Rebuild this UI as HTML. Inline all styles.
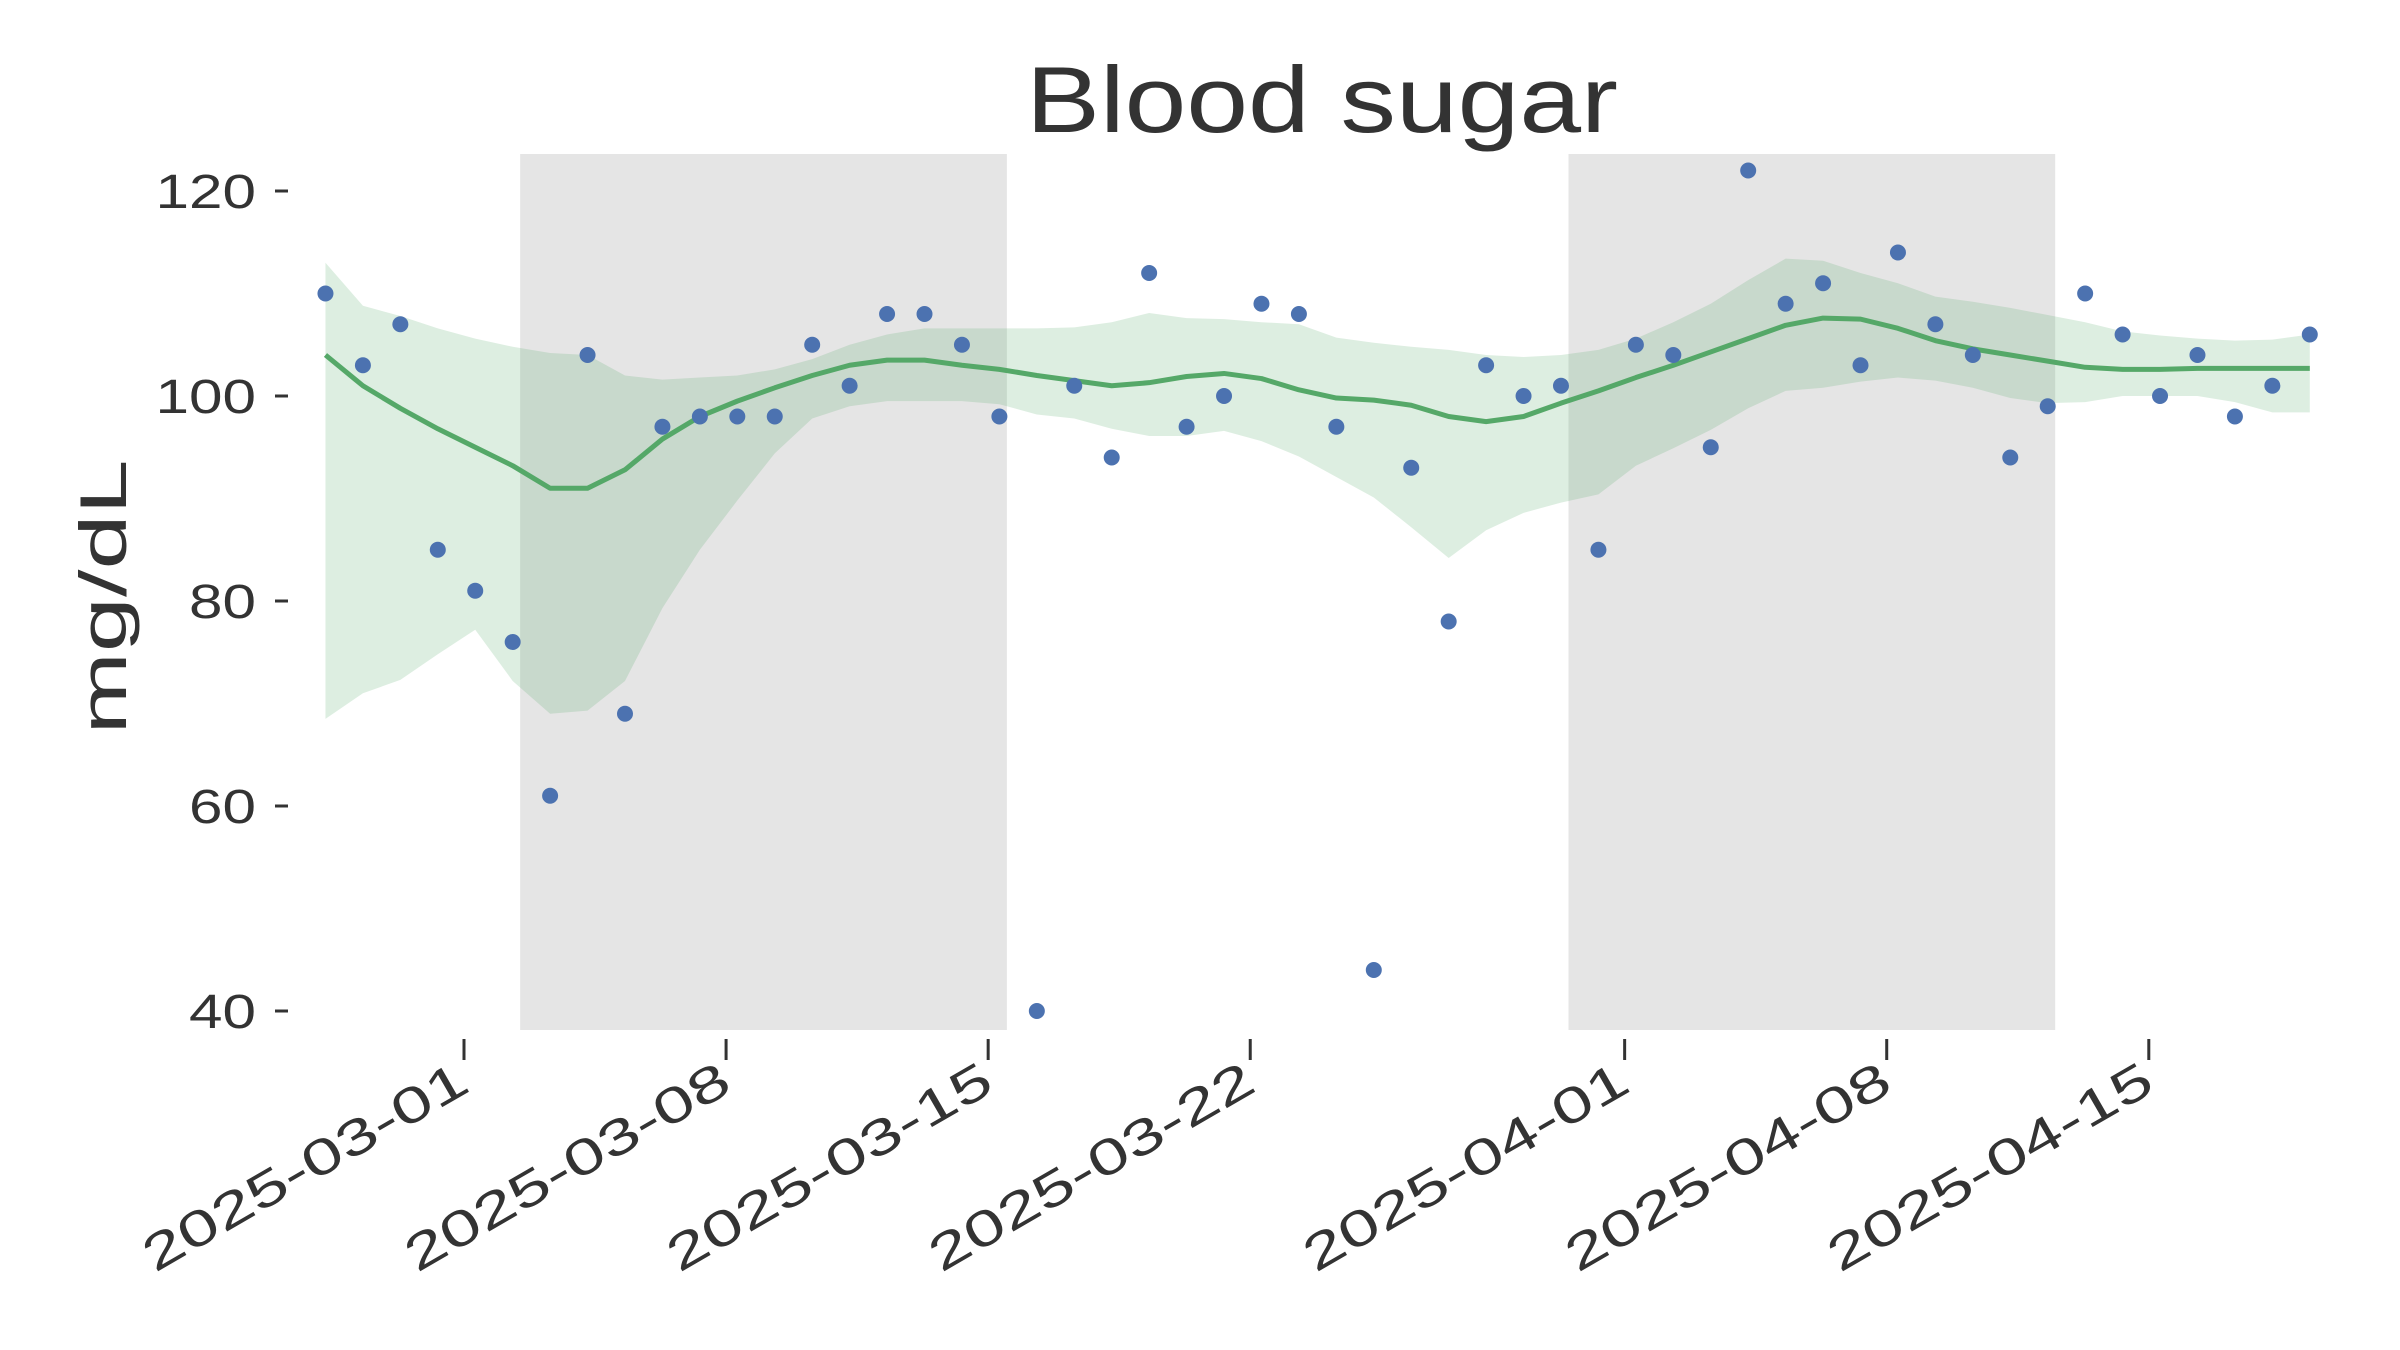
<!DOCTYPE html>
<html><head><meta charset="utf-8"><style>
html,body{margin:0;padding:0;background:#fff;}
svg{display:block;font-family:"Liberation Sans",sans-serif;}
</style></head><body>
<svg id="chart" width="2400" height="1350" viewBox="0 0 2400 1350" xmlns="http://www.w3.org/2000/svg">
<text x="1322" y="132" font-size="94" fill="#333" text-anchor="middle" textLength="592" lengthAdjust="spacingAndGlyphs">Blood sugar</text>
<text transform="translate(126,597) rotate(-90)" font-size="66" fill="#333" text-anchor="middle" textLength="275" lengthAdjust="spacingAndGlyphs">mg/dL</text>
<g id="spans"></g><g id="band"></g><g id="line"></g><g id="dots"></g><g id="yaxis"></g><g id="xaxis"></g>
</svg>
<script>
const values=[110,103,107,85,81,76,61,104,69,97,98,98,98,105,101,108,108,105,98,40,101,94,112,97,100,109,108,97,44,93,78,103,100,101,85,105,104,95,122,109,111,103,114,107,104,94,99,110,106,100,104,98,101,106];
const trend=[104,101,98.8,96.8,95,93.2,91,91,92.8,95.8,98,99.5,100.8,102,103,103.5,103.5,103,102.6,102,101.5,101,101.3,101.9,102.2,101.7,100.6,99.8,99.6,99.1,98,97.5,98,99.3,100.5,101.8,103,104.3,105.6,106.9,107.6,107.5,106.6,105.4,104.6,104,103.4,102.8,102.6,102.6,102.7,102.7,102.7,102.7];
const upper=[113,108.8,107.8,106.6,105.6,104.8,104.2,104,102,101.6,101.8,102,102.6,103.6,105,106,106.6,106.6,106.6,106.6,106.7,107.2,108.1,107.6,107.5,107.2,107,105.7,105.2,104.8,104.5,104,103.8,104,104.5,105.6,107.2,109,111.3,113.4,113.2,112,111,109.7,109.2,108.6,107.9,107.2,106.3,105.9,105.6,105.4,105.5,106];
const lower=[68.5,71,72.3,74.8,77.2,72.2,69,69.3,72.2,79.3,85,89.8,94.4,97.8,99,99.5,99.5,99.5,99.2,98.2,97.8,96.8,96.1,96.1,96.6,95.6,94.1,92.1,90.1,87.2,84.2,86.9,88.6,89.6,90.4,93.2,94.9,96.7,98.8,100.5,100.8,101.4,101.8,101.5,100.8,99.8,99.3,99.4,100,100,100,99.4,98.4,98.4];
const startDay=-3.7;
const spanStarts=[1.5,29.5];
const spanEnds=[14.5,42.5];
const yTicks=[40,60,80,100,120];
const xTickDays=[0,7,14,21,31,38,45];
const xTickLabels=["2025-03-01","2025-03-08","2025-03-15","2025-03-22","2025-04-01","2025-04-08","2025-04-15"];

const NS="http://www.w3.org/2000/svg";
function X(d){return 464+d*37.44;}
function Y(v){return 396+(100-v)*10.25;}
function mk(tag,attrs,parent){const e=document.createElementNS(NS,tag);for(const k in attrs)e.setAttribute(k,attrs[k]);document.getElementById(parent).appendChild(e);return e;}
const days=values.map((v,i)=>startDay+i);

for(let i=0;i<spanStarts.length;i++){
  const r=mk('rect',{x:X(spanStarts[i]),y:154,width:X(spanEnds[i])-X(spanStarts[i]),height:876,fill:'#e5e5e5'},'spans');
  
  
}
let bp=days.map((d,i)=>X(d)+','+Y(upper[i]));
for(let i=days.length-1;i>=0;i--)bp.push(X(days[i])+','+Y(lower[i]));
const band=mk('polygon',{points:bp.join(' '),fill:'#55a868','fill-opacity':0.2},'band');


const ln=mk('polyline',{points:days.map((d,i)=>X(d)+','+Y(trend[i])).join(' '),fill:'none',stroke:'#55a868','stroke-width':5,'stroke-linejoin':'round'},'line');


values.forEach((v,i)=>{
  const c=mk('circle',{cx:X(days[i]),cy:Y(v),r:8,fill:'#4c72b0'},'dots');
  
  
});
yTicks.forEach(t=>{
  const l=mk('line',{x1:275,x2:288,y1:Y(t),y2:Y(t),stroke:'#333','stroke-width':3},'yaxis');
  
  
  const tx=mk('text',{x:256,y:Y(t)+17,'font-size':48,fill:'#333','text-anchor':'end',textLength:String(t).length*33.5,lengthAdjust:'spacingAndGlyphs'},'yaxis');
  tx.textContent=t;
  
  
});
xTickDays.forEach((d,i)=>{
  const l=mk('line',{x1:X(d),x2:X(d),y1:1039,y2:1060,stroke:'#333','stroke-width':3},'xaxis');
  
  
  const tx=mk('text',{transform:'translate('+(X(d)+8)+',1090) rotate(-30)','font-size':50,fill:'#333','text-anchor':'end',textLength:366,lengthAdjust:'spacingAndGlyphs'},'xaxis');
  tx.textContent=xTickLabels[i];
  
  
});
</script>
</body></html>
